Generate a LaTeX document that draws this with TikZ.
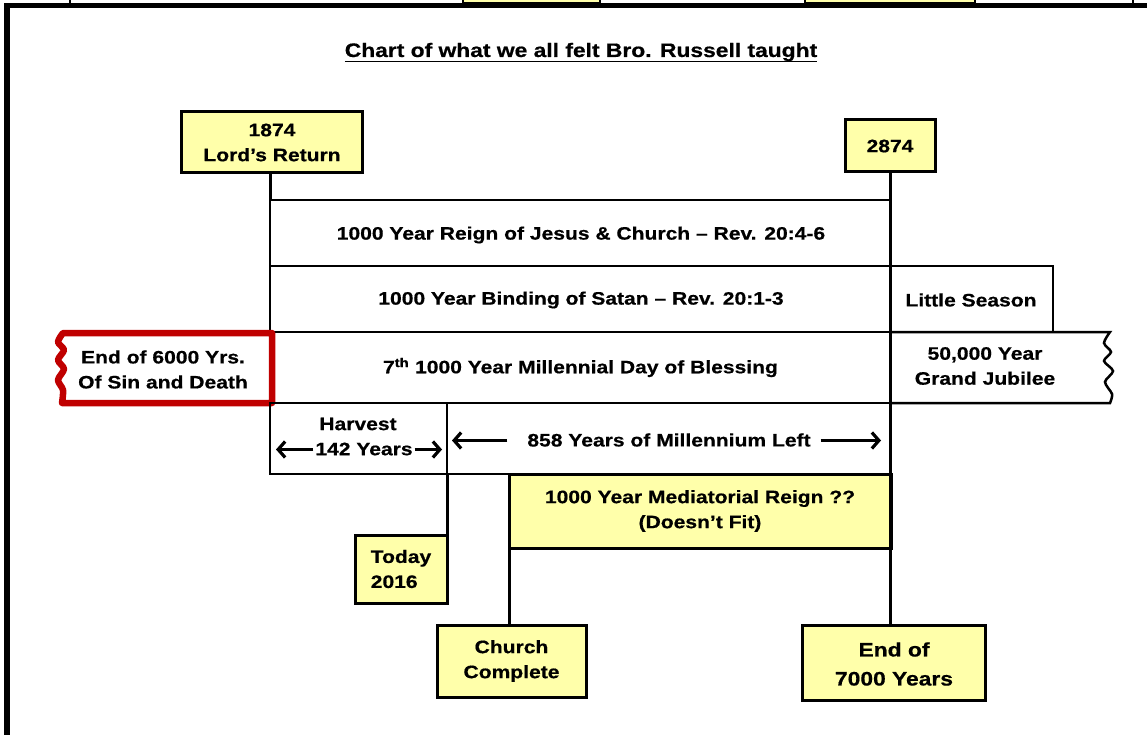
\documentclass[tikz,border=0pt]{standalone}
\usepackage{fontspec}
\setmainfont[FakeStretch=1.17, BoldFeatures={FakeBold=0.6}]{Liberation Sans}
\usetikzlibrary{arrows.meta}
\definecolor{boxyellow}{HTML}{FFFFAA}
\definecolor{darkred}{HTML}{C00000}
\begin{document}
\begin{tikzpicture}[x=1pt,y=-1pt,
  every node/.style={font=\bfseries\fontsize{18}{25}\selectfont, align=center, inner sep=0pt, outer sep=0pt},
  ybox/.style={draw, line width=3pt, fill=boxyellow},
  rowbox/.style={draw, line width=2.5pt},
  conn/.style={line width=3pt},
  arr/.style={line width=3.2pt, -{Straight Barb[length=7pt,width=16pt,line join=miter]}}
]
\useasboundingbox (0,0) rectangle (1147,735);
\begin{scope}
\clip (0,0) rectangle (1147,735);
% remnants of previous slide at the top
\draw[line width=2pt, fill=boxyellow] (463,-20) rectangle (600,3);
\draw[line width=2pt, fill=boxyellow] (805,-20) rectangle (975,3);
\draw[line width=2pt] (70,-5) -- (70,5);
\draw[line width=2pt] (1133,-5) -- (1133,5);
% frame
\draw[line width=5.5pt] (7,740) -- (7,5.5) -- (1150,5.5);
\end{scope}

% title
\node[font=\bfseries\fontsize{19.5}{22}\selectfont] (title) at (581,52) {Chart of what we all felt Bro. Russell taught};
\draw[line width=1.6pt] ([yshift=-4.5pt]title.base west) -- ([yshift=-4.5pt]title.base east);

% rows
\node[rowbox, minimum width=621pt, minimum height=66pt] (reign) at (580.5,233) {};
\node (reigntxt) at (581,235) {1000 Year Reign of Jesus \& Church – Rev. 20:4-6};
\node[rowbox, minimum width=621pt, minimum height=66pt] (binding) at (580.5,299) {};
\node (bindingtxt) at (581,300) {1000 Year Binding of Satan – Rev. 20:1-3};
\node[rowbox, minimum width=162pt, minimum height=66pt] (little) at (972,299) {};
\node (littletxt) at (971,300) {Little Season};

% 50,000 year box with wavy right edge
\draw[line width=2.5pt] (891,332) -- (1110,332)
  -- plot[smooth] coordinates {(1110,332) (1104,343) (1111,352) (1104,361) (1113,371) (1105,382) (1112,394) (1110,403)}
  -- (891,403);
\node (jubilee) at (985,366) {50,000 Year\\Grand Jubilee};

\node[rowbox, minimum width=621pt, minimum height=71pt] (blessing) at (580.5,367.5) {7\textsuperscript{th} 1000 Year Millennial Day of Blessing};

% red box with wavy left edge
\draw[line width=6.5pt, darkred, line join=round]
  (272,333) -- (63,333)
  -- plot[smooth] coordinates {(63,333) (58,342) (64,350) (58,360) (64,369) (58,380) (63,390) (62,403)}
  -- (272,403) -- cycle;
\node (sixk) at (163,369.5) {End of 6000 Yrs.\\Of Sin and Death};

% harvest and remaining years
\node[rowbox, minimum width=177pt, minimum height=71pt] (harvest) at (358.5,438.5) {};
\node (harvesttxt) at (358,424) {Harvest};
\node (years142) at (364,449) {142 Years};
\coordinate (h142l) at (276,449.5);
\coordinate (h142r) at (442,449.5);
\draw[arr] (years142.west |- h142l) ++(-2pt,0) -- (h142l);
\draw[arr] (years142.east |- h142r) ++(2pt,0) -- (h142r);

\node[rowbox, minimum width=444pt, minimum height=71pt] (left858) at (669,438.5) {};
\node (years858) at (669,440) {858 Years of Millennium Left};
\coordinate (l858l) at (452,440.5);
\coordinate (l858r) at (881,440.5);
\draw[arr] (years858.west |- l858l) ++(-20pt,0) -- (l858l);
\draw[arr] (years858.east |- l858r) ++(10pt,0) -- (l858r);

% yellow boxes
\node[ybox, minimum width=181pt, minimum height=61pt] (lord) at (272,142.5) {1874\\Lord’s Return};
\node[ybox, minimum width=90pt, minimum height=52pt] (y2874) at (890,146) {2874};
\node[ybox, minimum width=382pt, minimum height=74pt] (medi) at (700,511) {1000 Year Mediatorial Reign ??\\(Doesn’t Fit)};
\node[ybox, minimum width=92pt, minimum height=68pt, align=left] (today) at (401,569) {Today\\2016};
\node[ybox, minimum width=149pt, minimum height=72pt] (church) at (511.5,661) {Church\\Complete};
\node[ybox, minimum width=183pt, minimum height=75pt] (end7000) at (893.5,662.5) {};
\node[font=\bfseries\fontsize{19.5}{29}\selectfont] (end7000txt) at (894,664) {End of\\7000 Years};

% connectors
\draw[conn] (reign.north west |- lord.south) -- (reign.north west);
\draw[conn] (y2874.south) -- (y2874.south |- end7000.north);
\draw[conn] (harvest.south east) -- (today.north east);
\draw[conn] (medi.south west) -- (medi.south west |- church.north);
\end{tikzpicture}
\end{document}
